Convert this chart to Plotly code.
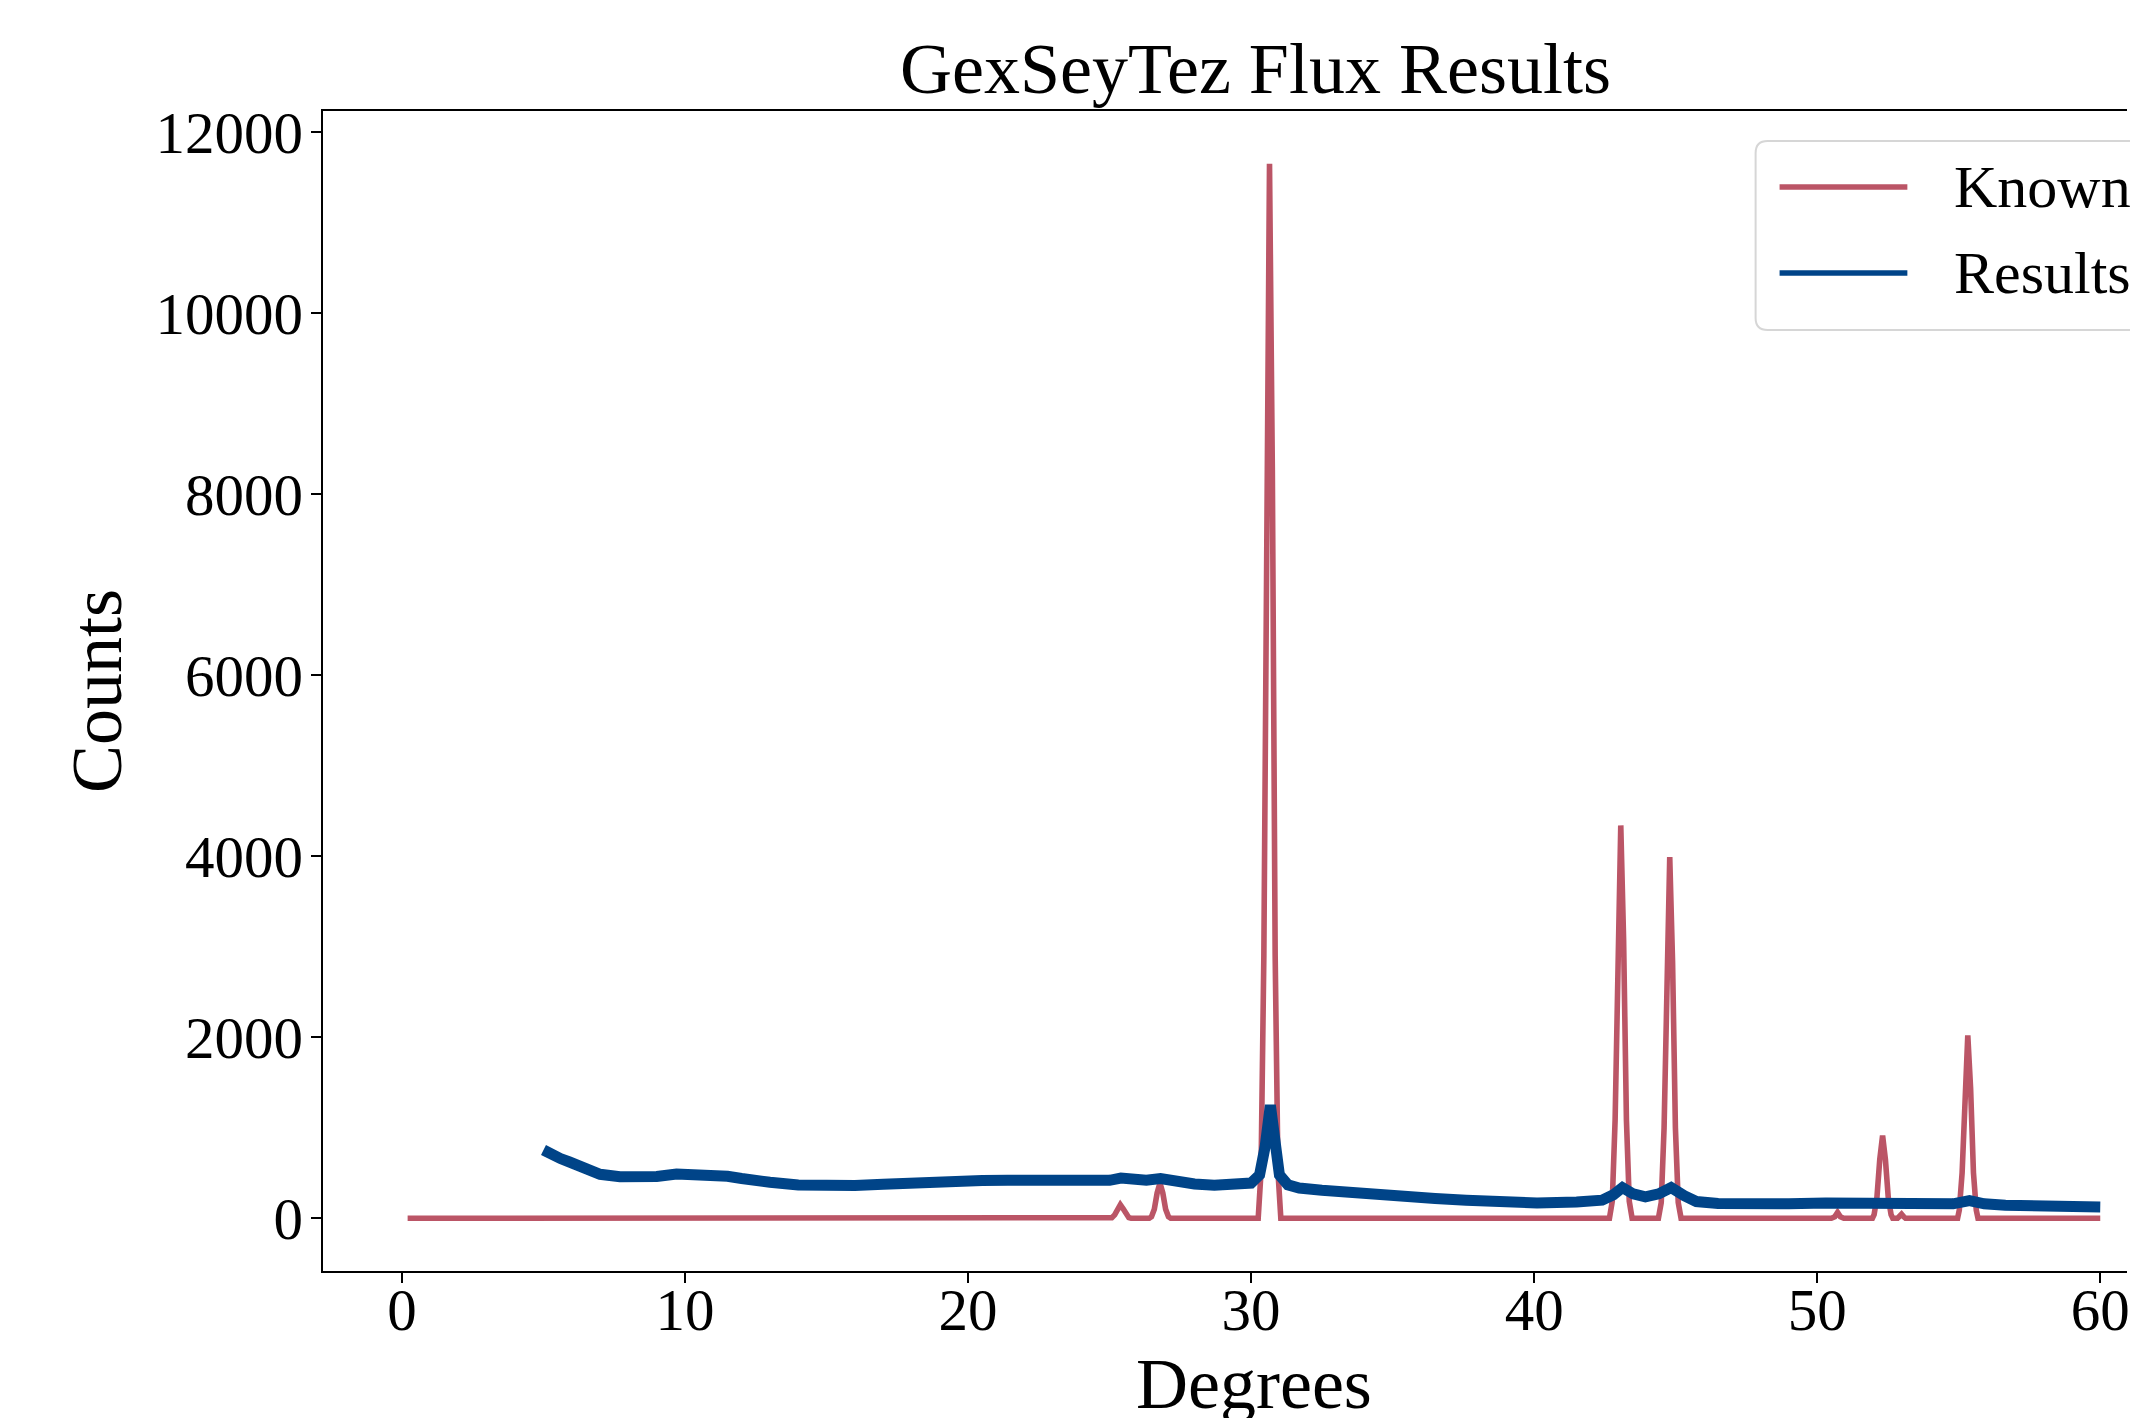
import plotly.graph_objects as go

# ---------------- data ----------------
known_deg = [0.2, 25.0, 25.08, 25.18, 25.28, 25.38, 25.48, 25.58, 25.68, 25.76,
             26.4, 26.48, 26.58, 26.68, 26.78, 26.88, 26.98, 27.08, 27.16,
             30.25, 30.35, 30.45, 30.55, 30.65, 30.75, 30.85, 30.95, 31.05,
             42.66, 42.76, 42.86, 42.96, 43.06, 43.16, 43.26, 43.36, 43.46,
             44.39, 44.49, 44.59, 44.69, 44.79, 44.89, 44.99, 45.09, 45.19,
             50.5, 50.62, 50.72, 50.82, 50.94,
             51.95, 52.01, 52.11, 52.21, 52.31, 52.41, 52.51, 52.61, 52.67,
             52.84, 52.9, 52.98, 53.06, 53.12,
             54.96, 55.02, 55.12, 55.22, 55.32, 55.42, 55.52, 55.62, 55.68,
             60.0]
known_counts = [0, 0, 7, 38, 105, 150, 105, 38, 7, 0,
                0, 17, 100, 280, 390, 280, 100, 17, 0,
                0, 510, 2900, 8270, 11650, 8270, 2900, 510, 0,
                0, 190, 1085, 3080, 4340, 3080, 1085, 190, 0,
                0, 175, 1000, 2830, 3990, 2830, 1000, 175, 0,
                0, 16, 65, 16, 0,
                0, 40, 230, 650, 915, 650, 230, 40, 0,
                0, 16, 45, 16, 0,
                0, 90, 505, 1430, 2020, 1430, 505, 90, 0,
                0]

results_deg = [5.0, 5.15, 5.34, 5.6, 5.92, 6.2, 6.5, 7.0, 7.7, 8.5, 9.0, 9.7,
               10.3, 10.8, 11.5, 12.0, 12.5, 13.0, 14.0, 15.0, 16.0, 17.0, 17.8,
               18.5, 19.6, 20.5, 21.4, 22.3, 23.2, 24.2, 25.0, 25.4, 25.8, 26.3,
               26.8, 27.3, 28.0, 28.7, 29.5, 30.0, 30.3, 30.5, 30.68, 30.85, 31.0,
               31.3, 31.7, 32.5, 33.5, 35.0, 36.5, 37.6, 39.0, 40.1, 41.5, 42.4,
               42.8, 43.12, 43.5, 43.93, 44.4, 44.84, 45.3, 45.73, 46.5, 47.75,
               49.0, 50.3, 51.5, 52.33, 53.2, 54.1, 54.8, 55.38, 55.9, 56.65,
               57.92, 59.0, 60.0]
results_counts = [755, 725, 696, 660, 622, 580, 535, 486, 460, 455, 462, 490,
                  488, 480, 465, 440, 413, 398, 368, 360, 362, 375, 390,
                  400, 413, 418, 420, 415, 413, 418, 420, 445, 425, 420,
                  438, 410, 380, 365, 370, 390, 480, 800, 1250, 800, 480,
                  370, 335, 310, 280, 254, 220, 200, 180, 170, 180, 200,
                  260, 340, 270, 236, 270, 340, 250, 185, 165, 155,
                  160, 168, 165, 165, 150, 144, 160, 195, 160, 144,
                  133, 128, 125]

x_ticks = [0, 10, 20, 30, 40, 50, 60]
y_ticks = [0, 2000, 4000, 6000, 8000, 10000, 12000]
series_names = ["Known", "Results"]

title_text = "GexSeyTez Flux Results"
x_label = "Degrees"
y_label = "Counts"

# ---------------- styling / layout ----------------
RED = "#BB5566"
BLUE = "#004488"
FONT = "Liberation Serif"

W, H = 2130, 1418
ML, MT, MB = 323, 111, 147
PW = W - ML            # plot width (right margin 0: axes run off the canvas)
PH = H - MT - MB       # plot height


def px_x(px):
    return (px - ML) / PW


def px_y(py):
    return (H - MB - py) / PH


fig = go.Figure()
fig.add_trace(go.Scatter(x=known_deg, y=known_counts, mode="lines", name=series_names[0],
                         line=dict(color=RED, width=5.6), showlegend=False))
fig.add_trace(go.Scatter(x=results_deg, y=results_counts, mode="lines", name=series_names[1],
                         line=dict(color=BLUE, width=11), showlegend=False))

axis_common = dict(showgrid=False, zeroline=False, showline=True, linecolor="black",
                   linewidth=2.2, ticks="outside", ticklen=10, tickwidth=2.2,
                   tickcolor="black", ticklabeloverflow="allow",
                   tickfont=dict(family=FONT, size=59, color="black"))

fig.update_xaxes(range=[-2.79, 60.945], tickvals=x_ticks, mirror=True,
                 ticklabelstandoff=-24, **axis_common)
fig.update_yaxes(range=[-582, 12232], tickvals=y_ticks, tickformat="d", mirror=False,
                 ticklabelstandoff=-4, **axis_common)

# manual legend (matplotlib-style: long handles, rounded frame)
def rounded_rect(x0, y0, x1, y1, r):
    def P(a, b):
        return f"{px_x(a):.5f},{px_y(b):.5f}"
    return (f"M {P(x0 + r, y0)} L {P(x1 - r, y0)} Q {P(x1, y0)} {P(x1, y0 + r)} "
            f"L {P(x1, y1 - r)} Q {P(x1, y1)} {P(x1 - r, y1)} "
            f"L {P(x0 + r, y1)} Q {P(x0, y1)} {P(x0, y1 - r)} "
            f"L {P(x0, y0 + r)} Q {P(x0, y0)} {P(x0 + r, y0)} Z")

shapes = [dict(type="path", xref="paper", yref="paper",
               path=rounded_rect(1758, 141, 2161, 330, 12),
               fillcolor="rgba(255,255,255,0.8)", line=dict(color="rgb(214,214,214)", width=2),
               layer="above")]
annotations = []
for name, col, ly in [(series_names[0], RED, 187), (series_names[1], BLUE, 273)]:
    shapes.append(dict(type="line", xref="paper", yref="paper",
                       x0=px_x(1782), x1=px_x(1910), y0=px_y(ly), y1=px_y(ly),
                       line=dict(color=col, width=5.6), layer="above"))
    annotations.append(dict(text=name, xref="paper", yref="paper", x=px_x(1955), y=px_y(ly),
                            xanchor="left", yanchor="middle", showarrow=False,
                            font=dict(family=FONT, size=60, color="black")))

# axis labels (centred on the full matplotlib-style axes, which extend past the canvas)
annotations.append(dict(text=x_label, xref="paper", yref="paper", x=px_x(1255.5), y=px_y(1383.7),
                        xanchor="center", yanchor="middle", showarrow=False,
                        font=dict(family=FONT, size=72, color="black")))
annotations.append(dict(text=y_label, xref="paper", yref="paper", x=px_x(96.7), y=px_y(691),
                        xanchor="center", yanchor="middle", showarrow=False, textangle=-90,
                        font=dict(family=FONT, size=72, color="black")))

fig.update_layout(
    width=W, height=H,
    margin=dict(l=ML, r=0, t=MT, b=MB, pad=0),
    paper_bgcolor="white", plot_bgcolor="white",
    font=dict(family=FONT, color="black"),
    title=dict(text=title_text, x=1255.5 / W, xref="container", xanchor="center",
               y=1 - 67.8 / H, yref="container", yanchor="middle",
               font=dict(family=FONT, size=72, color="black")),
    shapes=shapes, annotations=annotations, showlegend=False,
)

fig.write_html("out.html", config={"displayModeBar": False},
               post_script="document.body.style.margin='0';document.body.style.overflow='hidden';")
